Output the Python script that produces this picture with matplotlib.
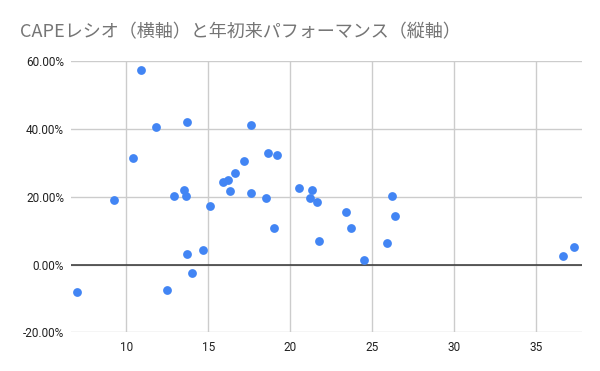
import matplotlib
matplotlib.use('Agg')
import matplotlib.pyplot as plt
from matplotlib.ticker import FuncFormatter

# データ: CAPEレシオ と 年初来パフォーマンス(%)
cape = [7.0, 9.27, 10.39, 10.91, 11.81, 12.5, 12.91, 13.52, 13.64, 13.72,
        13.72, 14.0, 14.7, 15.1, 15.91, 16.2, 16.32, 16.61, 17.2, 17.62,
        17.62, 18.52, 18.62, 19.0, 19.19, 20.51, 21.3, 21.2, 21.63, 21.73,
        23.41, 23.7, 24.51, 25.9, 26.22, 26.4, 36.63, 37.32]
ytd = [-8.0, 19.2, 31.4, 57.3, 40.5, -7.5, 20.3, 21.9, 20.1, 42.0,
       3.25, -2.57, 4.2, 17.2, 24.5, 25.1, 21.6, 26.9, 30.6, 41.2,
       21.0, 19.5, 32.8, 10.7, 32.3, 22.6, 21.9, 19.5, 18.4, 7.0,
       15.5, 10.7, 1.2, 6.3, 20.1, 14.4, 2.55, 5.3]

x_ticks = [10, 15, 20, 25, 30, 35]
y_ticks = [-20, 0, 20, 40, 60]
title = 'CAPEレシオ（横軸）と年初来パフォーマンス（縦軸）'

fig = plt.figure(figsize=(6, 3.71), dpi=100)
ax = fig.add_axes([0.1183, 0.1043, 0.8512, 0.7305])

ax.scatter(cape, ytd, s=40, color='#4285F4', zorder=3, linewidths=0)

ax.set_xlim(6.63, 37.77)
ax.set_ylim(-20, 60)
ax.set_xticks(x_ticks)
ax.set_yticks(y_ticks)
ax.yaxis.set_major_formatter(FuncFormatter(lambda v, p: f'{v:.2f}%'))

ax.grid(True, color='#cccccc', linewidth=1)
ax.axhline(0, color='#333333', linewidth=1.1, zorder=2)
for s in ax.spines.values():
    s.set_visible(False)
ax.tick_params(length=0, labelsize=8.5, labelcolor='#222222')
ax.tick_params(axis='y', pad=5)
ax.tick_params(axis='x', pad=6)
for lbl in ax.get_xticklabels() + ax.get_yticklabels():
    lbl.set_family(['Roboto', 'DejaVu Sans'])

fig.text(20 / 600, 1 - 32 / 371, title, fontsize=13, color='#757575',
         va='center', ha='left', family=['Noto Sans CJK JP', 'DejaVu Sans'])

fig.savefig('out.png', dpi=100)
